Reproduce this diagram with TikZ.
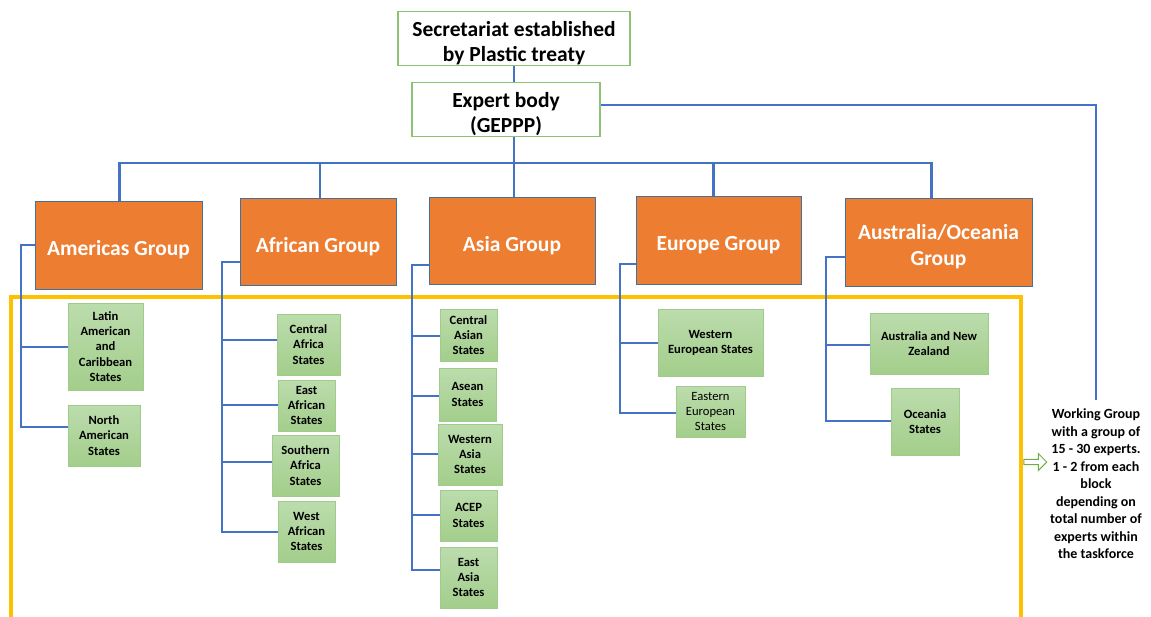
\documentclass[tikz,border=0pt]{standalone}
\usepackage{fontspec}
\setmainfont{Carlito}
\usetikzlibrary{shapes.arrows}
\definecolor{orng}{HTML}{ED7D31}
\definecolor{oline}{HTML}{41719C}
\definecolor{gtop}{HTML}{BCDCAD}
\definecolor{gbot}{HTML}{A3CE8B}
\definecolor{gline}{HTML}{A0CC8A}
\definecolor{wline}{HTML}{8CC474}
\definecolor{bl}{HTML}{4472C4}
\definecolor{yel}{HTML}{FFC000}
\definecolor{arrg}{HTML}{70AD47}
\newcommand\dn{\rule{0pt}{1.15em}}
\tikzset{
  topbox/.style={draw=wline, line width=1.2pt, fill=white, align=center, inner sep=0pt,
    font=\bfseries\fontsize{21.5}{25.5}\selectfont},
  obox/.style={draw=oline, line width=0.8pt, fill=orng, text=white, align=center, inner sep=0pt,
    font=\bfseries\fontsize{21.5}{26}\selectfont},
  gbox/.style={draw=gline, line width=0.8pt, top color=gtop, bottom color=gbot, align=center, inner sep=0pt,
    font=\bfseries\fontsize{12.6}{15.2}\selectfont},
  conn/.style={draw=bl, line width=2.9pt},
  ybox/.style={draw=yel, line width=3.4pt},
}
\newcommand\bx[7]{\node[#1, minimum width={#5-#3}, minimum height={#6-#4}] (#2) at ({(#3+#5)/2},{(#4+#6)/2}) {#7};}
\begin{document}
\begin{tikzpicture}[x=1pt,y=-1pt]
\useasboundingbox (0,0) rectangle (1151,616);
% yellow frame
\draw[ybox] (11,297) rectangle (1021,640);
% top boxes
\bx{topbox}{sec}{398}{12}{630}{65}{\dn Secretariat established\\by Plastic treaty}
\bx{topbox}{exp}{412}{85}{600}{134}{\dn Expert body\\(GEPPP)}
% group boxes
\bx{obox}{amer}{35}{201}{202}{289}{\dn Americas Group}
\bx{obox}{afr}{240}{198}{396}{285}{\dn African Group}
\bx{obox}{asia}{429}{197}{595}{284}{\dn Asia Group}
\bx{obox}{eur}{636}{196}{801}{284}{\dn Europe Group}
\bx{obox}{aus}{845}{198}{1032}{286}{\dn Australia/Oceania\\Group}
% sub boxes
\bx{gbox}{latin}{68}{303}{143}{390}{Latin\\American\\and\\Caribbean\\States}
\bx{gbox}{north}{68}{405}{140}{466}{North\\American\\States}
\bx{gbox}{caf}{277}{314}{340}{375}{Central\\Africa\\States}
\bx{gbox}{eaf}{278}{380}{335}{431}{East\\African\\States}
\bx{gbox}{saf}{272}{435}{339}{496}{Southern\\Africa\\States}
\bx{gbox}{waf}{278}{501}{335}{562}{West\\African\\States}
\bx{gbox}{cas}{440}{309}{497}{361}{Central\\Asian\\States}
\bx{gbox}{asean}{439}{368}{496}{421}{Asean\\States}
\bx{gbox}{was}{438}{424}{502}{485}{Western\\Asia\\States}
\bx{gbox}{acep}{440}{490}{497}{541}{ACEP\\States}
\bx{gbox}{eas}{440}{547}{497}{608}{East\\Asia\\States}
\bx{gbox}{weu}{658}{309}{763}{376}{Western\\European States}
\bx{gbox, font=\fontsize{12.6}{15.2}\selectfont}{eeu}{676}{386}{745}{437}{Eastern\\European\\States}
\bx{gbox}{anz}{870}{313}{988}{374}{Australia and New\\Zealand}
\bx{gbox}{oce}{891}{388}{959}{455}{Oceania\\States}
% working group
\node[align=center, inner xsep=0pt, inner ysep=9pt, font=\bfseries\fontsize{14}{17.5}\selectfont] (wg) at (1096,484)
  {Working Group\\with a group of\\15 - 30 experts.\\1 - 2 from each\\block\\depending on\\total number of\\experts within\\the taskforce};
\node[single arrow, draw=arrg, fill=white, line width=1pt, minimum height=23pt, minimum width=17pt,
  single arrow head extend=3.5pt, inner sep=1pt, single arrow head indent=0pt] (arr) at (1034,462) {};
% top connectors
\draw[conn] (sec.south) -- (sec.south |- exp.north);
\draw[conn] (sec.south |- exp.south) -- (sec.south |- asia.north);
\coordinate (bus) at (0,163);
\draw[conn] ([xshift=1pt]amer.north) |- ([xshift=-7pt]aus.north |- bus) -- ([xshift=-7pt]aus.north);
\draw[conn] ([xshift=2pt]afr.north) -- ([xshift=2pt]afr.north |- bus);
\draw[conn] ([xshift=-5pt]eur.north) -- ([xshift=-5pt]eur.north |- bus);
\draw[conn] (exp.east |- 0,105) -| (wg.north);
% Americas
\draw[conn] (amer.west) -| (21,427) -- (north.west |- 21,427);
\draw[conn] (21,347) -- (latin.west |- 21,347);
% Africa
\draw[conn] ([yshift=-20.5pt]afr.west) -| (222,532) -- (waf.west |- 222,532);
\draw[conn] (222,340) -- (caf.west |- 222,340);
\draw[conn] (222,405) -- (eaf.west |- 222,405);
\draw[conn] (222,462) -- (saf.west |- 222,462);
% Asia
\draw[conn] ([yshift=-24.5pt]asia.west) -| (412,570) -- (eas.west |- 412,570);
\draw[conn] (412,336) -- (cas.west |- 412,336);
\draw[conn] (412,396) -- (asean.west |- 412,396);
\draw[conn] (412,454) -- (was.west |- 412,454);
\draw[conn] (412,515) -- (acep.west |- 412,515);
% Europe
\draw[conn] ([yshift=-24pt]eur.west) -| (620,413) -- (eeu.west |- 620,413);
\draw[conn] (620,343) -- (weu.west |- 620,343);
% Australia
\draw[conn] ([yshift=-15pt]aus.west) -| (826,421) -- (oce.west |- 826,421);
\draw[conn] (826,345) -- (anz.west |- 826,345);
\end{tikzpicture}
\end{document}
